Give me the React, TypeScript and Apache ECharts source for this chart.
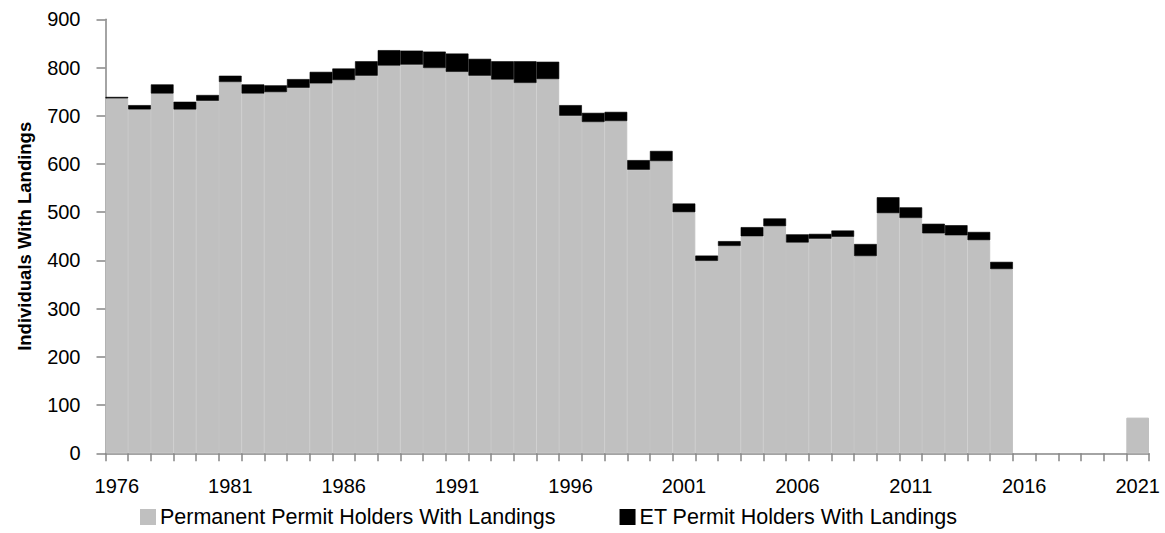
import React, { useEffect, useRef } from "react";
import * as echarts from "echarts";

const years: string[] = [
  "1976","1977","1978","1979","1980","1981","1982","1983","1984","1985",
  "1986","1987","1988","1989","1990","1991","1992","1993","1994","1995",
  "1996","1997","1998","1999","2000","2001","2002","2003","2004","2005",
  "2006","2007","2008","2009","2010","2011","2012","2013","2014","2015",
  "2016","2017","2018","2019","2020","2021",
];

const permanentHolders: (number | null)[] = [
  736, 713, 746, 713, 731, 770, 746, 749, 758, 767,
  774, 783, 804, 806, 799, 791, 783, 775, 768, 776,
  700, 687, 689, 588, 606, 500, 399, 430, 450, 471,
  437, 445, 449, 409, 498, 488, 456, 452, 442, 382,
  null, null, null, null, null, 74,
];

const etHolders: (number | null)[] = [
  3, 9, 19, 16, 12, 13, 19, 14, 18, 24,
  24, 30, 32, 29, 34, 38, 35, 38, 45, 36,
  22, 19, 19, 20, 21, 18, 11, 10, 19, 16,
  17, 10, 13, 25, 33, 22, 20, 21, 17, 15,
  null, null, null, null, null, null,
];

const yTicks = { min: 0, max: 900, interval: 100 };

const FONT = "'Liberation Sans Narrow', 'Arial Narrow', 'Liberation Sans', Arial, sans-serif";

export default function App() {
  const ref = useRef<HTMLDivElement>(null);
  useEffect(() => {
    if (!ref.current) return;
    const chart = echarts.init(ref.current, null, { renderer: "svg" });
    chart.setOption({
      animation: false,
      textStyle: { fontFamily: FONT, color: "#000" },
      grid: { left: 105.5, right: 16, top: 19.3, bottom: 79.7, containLabel: false },
      legend: {
        left: 140,
        top: 506,
        padding: 0,
        itemWidth: 14,
        itemHeight: 14,
        itemGap: 64,
        icon: "rect",
        textStyle: { fontFamily: FONT, fontSize: 21.5, color: "#000" },
        data: ["Permanent Permit Holders With Landings", "ET Permit Holders With Landings"],
      },
      xAxis: {
        type: "category",
        data: years,
        boundaryGap: true,
        axisLine: { show: true, lineStyle: { color: "#868686", width: 1.5 } },
        axisTick: { show: true, interval: 0, length: 8, lineStyle: { color: "#868686", width: 1.5 } },
        axisLabel: { interval: 4, margin: 23, fontFamily: FONT, fontSize: 20, color: "#000" },
        splitLine: { show: false },
      },
      yAxis: {
        type: "value",
        min: yTicks.min,
        max: yTicks.max,
        interval: yTicks.interval,
        name: "Individuals With Landings",
        nameLocation: "middle",
        nameGap: 72,
        nameRotate: 90,
        nameTextStyle: { fontFamily: FONT, fontSize: 18.5, fontWeight: "bold", color: "#000" },
        axisLine: { show: true, lineStyle: { color: "#868686", width: 1.5 } },
        axisTick: { show: true, length: 9, lineStyle: { color: "#868686", width: 1.5 } },
        axisLabel: { margin: 25, fontFamily: FONT, fontSize: 20, color: "#000" },
        splitLine: { show: false },
      },
      series: [
        {
          name: "Permanent Permit Holders With Landings",
          type: "bar",
          stack: "total",
          data: permanentHolders,
          barCategoryGap: "0%",
          itemStyle: { color: "#c0c0c0", borderColor: "#c0c0c0", borderWidth: 1 },
        },
        {
          name: "ET Permit Holders With Landings",
          type: "bar",
          stack: "total",
          data: etHolders,
          barCategoryGap: "0%",
          itemStyle: { color: "#000000", borderColor: "#000000", borderWidth: 0.6 },
        },
      ],
    });
    return () => chart.dispose();
  }, []);
  return (
    <div
      ref={ref}
      style={{ position: "fixed", left: 0, top: 0, width: 1165, height: 533, background: "#fff" }}
    />
  );
}
